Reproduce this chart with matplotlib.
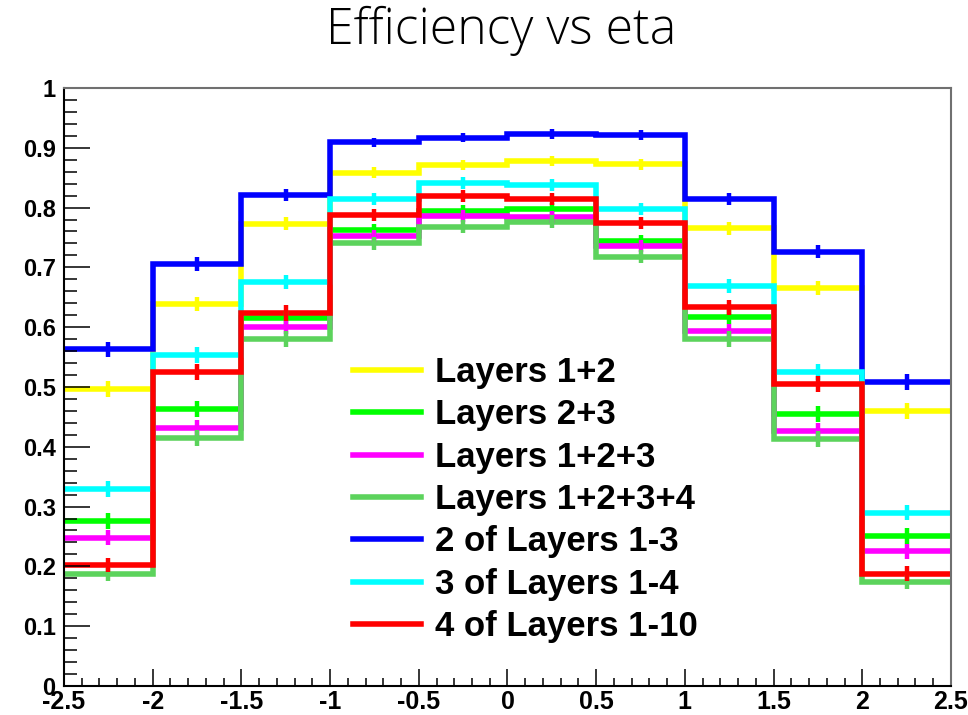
import numpy as np
import matplotlib
matplotlib.use("Agg")
import matplotlib.pyplot as plt
from matplotlib.ticker import MultipleLocator
from matplotlib import font_manager

# eta binning
edges = np.arange(-2.5, 2.51, 0.5)
centers = 0.5 * (edges[:-1] + edges[1:])

labels = ["Layers 1+2", "Layers 2+3", "Layers 1+2+3", "Layers 1+2+3+4",
          "2 of Layers 1-3", "3 of Layers 1-4", "4 of Layers 1-10"]
colors = ["#ffff00", "#00ff00", "#ff00ff", "#5cd35c",
          "#0000ff", "#00ffff", "#ff0000"]

eff_12 = [0.497, 0.639, 0.773, 0.858, 0.871, 0.878, 0.872, 0.765, 0.666, 0.460]
eff_23 = [0.276, 0.463, 0.615, 0.763, 0.795, 0.797, 0.744, 0.617, 0.455, 0.251]
eff_123 = [0.248, 0.431, 0.601, 0.753, 0.786, 0.785, 0.736, 0.594, 0.426, 0.225]
eff_1234 = [0.187, 0.415, 0.580, 0.740, 0.768, 0.776, 0.718, 0.580, 0.413, 0.174]
eff_2of3 = [0.563, 0.706, 0.821, 0.909, 0.917, 0.923, 0.921, 0.815, 0.726, 0.508]
eff_3of4 = [0.329, 0.553, 0.676, 0.814, 0.841, 0.838, 0.798, 0.669, 0.525, 0.290]
eff_4of10 = [0.202, 0.525, 0.624, 0.788, 0.820, 0.815, 0.774, 0.633, 0.505, 0.188]

# binomial errors per bin
err_12 = [0.013, 0.012, 0.011, 0.009, 0.009, 0.009, 0.009, 0.011, 0.012, 0.013]
err_23 = [0.013, 0.013, 0.012, 0.010, 0.010, 0.010, 0.010, 0.012, 0.013, 0.013]
err_123 = [0.013, 0.013, 0.012, 0.010, 0.010, 0.010, 0.010, 0.012, 0.013, 0.013]
err_1234 = [0.012, 0.013, 0.013, 0.011, 0.011, 0.011, 0.011, 0.013, 0.013, 0.012]
err_2of3 = [0.013, 0.012, 0.010, 0.008, 0.008, 0.008, 0.008, 0.010, 0.011, 0.013]
err_3of4 = [0.013, 0.013, 0.012, 0.010, 0.010, 0.010, 0.010, 0.012, 0.013, 0.013]
err_4of10 = [0.012, 0.013, 0.013, 0.010, 0.010, 0.010, 0.010, 0.012, 0.013, 0.012]

effs = [eff_12, eff_23, eff_123, eff_1234, eff_2of3, eff_3of4, eff_4of10]
errs = [err_12, err_23, err_123, err_1234, err_2of3, err_3of4, err_4of10]

plt.rcParams["font.family"] = ["Liberation Sans", "DejaVu Sans"]

fig = plt.figure(figsize=(9.68, 7.15), dpi=100)
ax = fig.add_axes([0.0661, 0.0406, 0.9163, 0.8364])

for lab, col, y, e in zip(labels, colors, effs, errs):
    ax.stairs(y, edges, baseline=None, color=col, linewidth=4.0, label=lab)
    ax.errorbar(centers, y, yerr=e, fmt="none", ecolor=col,
                elinewidth=3.2, capsize=0)

ax.set_xlim(-2.5, 2.5)
ax.set_ylim(0, 1)

ax.xaxis.set_minor_locator(MultipleLocator(0.1))
ax.yaxis.set_minor_locator(MultipleLocator(0.02))

ax.set_xticks(np.arange(-2.5, 2.51, 0.5))
ax.set_xticklabels(["-2.5", "-2", "-1.5", "-1", "-0.5", "0", "0.5", "1",
                    "1.5", "2", "2.5"])
ax.set_yticks(np.arange(0, 1.01, 0.1))
ax.set_yticklabels(["0", "0.1", "0.2", "0.3", "0.4", "0.5", "0.6", "0.7",
                    "0.8", "0.9", "1"])

ax.tick_params(axis="y", which="major", direction="in", length=18.7,
               width=1.1, pad=6, labelsize=17)
ax.tick_params(axis="y", which="minor", direction="in", length=9.1, width=1.1)
ax.tick_params(axis="x", which="major", direction="in", length=12.2,
               width=1.1, pad=3, labelsize=18)
ax.tick_params(axis="x", which="minor", direction="in", length=5.8, width=1.1)
for t in ax.get_xticklabels() + ax.get_yticklabels():
    t.set_fontweight("bold")

for side in ["left", "bottom"]:
    ax.spines[side].set_color("black")
    ax.spines[side].set_linewidth(1.5)
for side in ["top", "right"]:
    ax.spines[side].set_color("#707070")
    ax.spines[side].set_linewidth(1.5)

leg = ax.legend(loc="upper left", bbox_to_anchor=(353 / 968, 1 - 356 / 715),
                bbox_transform=fig.transFigure, frameon=False,
                prop={"size": 25, "weight": "bold"}, handlelength=1.95,
                handletextpad=0.42, labelspacing=0.27, borderpad=0,
                borderaxespad=0)

# thin title font if one is around
title_font = font_manager.FontProperties(family=["Open Sans", "Liberation Sans"],
                                         weight="light", size=36)
fig.text(501 / 968, 1 - 44 / 715, "Efficiency vs eta", ha="center",
         va="baseline", fontproperties=title_font)

fig.savefig("out.png", dpi=100)
